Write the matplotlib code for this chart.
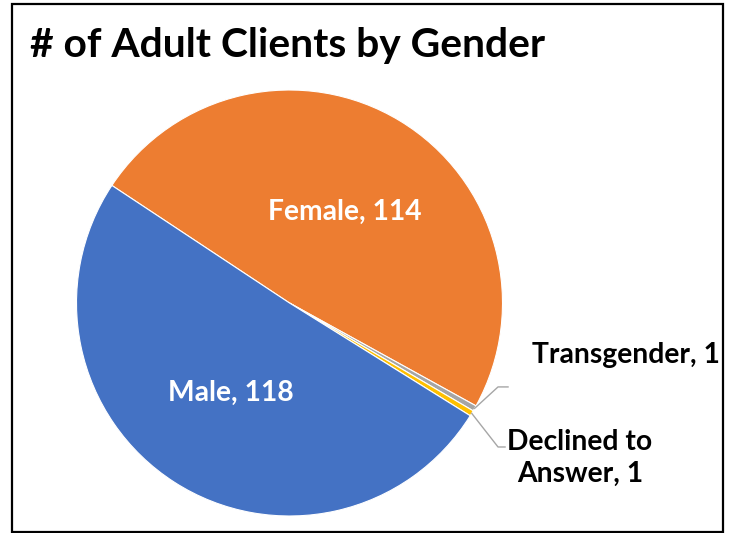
import numpy as np
import matplotlib
matplotlib.use("Agg")
import matplotlib.pyplot as plt
from matplotlib.patches import Rectangle

categories = ["Female", "Transgender", "Declined to\nAnswer", "Male"]
values = [114, 1, 1, 118]
colors = ["#ED7D31", "#A5A5A5", "#FFC000", "#4472C4"]
title = "# of Adult Clients by Gender"

W, H = 732, 533
fig = plt.figure(figsize=(W / 100, H / 100), dpi=100)
fig.patch.set_facecolor("white")

# frame
fig.add_artist(Rectangle((12 / W, 1 - 532 / H), (723 - 12) / W, (532 - 4) / H,
                         transform=fig.transFigure, fill=False,
                         edgecolor="black", linewidth=1.6))

cx, cy, r = 289.5, 303, 213
ax = fig.add_axes([(cx - r) / W, (H - cy - r) / H, 2 * r / W, 2 * r / H])
ax.axis("off")

wedges, _ = ax.pie(values, colors=colors, startangle=146.5, counterclock=False,
                   radius=1, wedgeprops=dict(edgecolor="white", linewidth=0.8))
ax.set_xlim(-1, 1)
ax.set_ylim(-1, 1)
ax.set_aspect("equal")

font = "Lato"
fig.text(30 / W, 1 - 46 / H, title, fontsize=29.3, fontweight="bold",
         family=font, ha="left", va="center", color="black")

def lab(cat, val):
    return f"{cat}, {val}"

fs = 20.3
# inside labels
ax.text(0.26, 0.427, lab(categories[0], values[0]), color="white", fontsize=fs,
        fontweight="bold", family=font, ha="center", va="center")
ax.text(-0.275, -0.423, lab(categories[3], values[3]), color="white", fontsize=fs,
        fontweight="bold", family=font, ha="center", va="center")

# outside labels with leader lines
def anchor(w):
    th = np.deg2rad((w.theta1 + w.theta2) / 2)
    return np.cos(th), np.sin(th)

a1 = anchor(wedges[1])
ax.plot([a1[0], 0.979, 1.026], [a1[1], -0.394, -0.394], color="#A6A6A6",
        lw=1, clip_on=False)
ax.text(1.14, -0.244, lab(categories[1], values[1]), color="black", fontsize=fs,
        fontweight="bold", family=font, ha="left", va="center")

a2 = anchor(wedges[2])
ax.plot([a2[0], 0.979, 1.012], [a2[1], -0.676, -0.676], color="#A6A6A6",
        lw=1, clip_on=False)
ax.text(1.364, -0.728, lab(categories[2], values[2]), color="black", fontsize=fs,
        fontweight="bold", family=font, ha="center", va="center", linespacing=1.3)

fig.savefig("out.png", dpi=100, facecolor="white")
